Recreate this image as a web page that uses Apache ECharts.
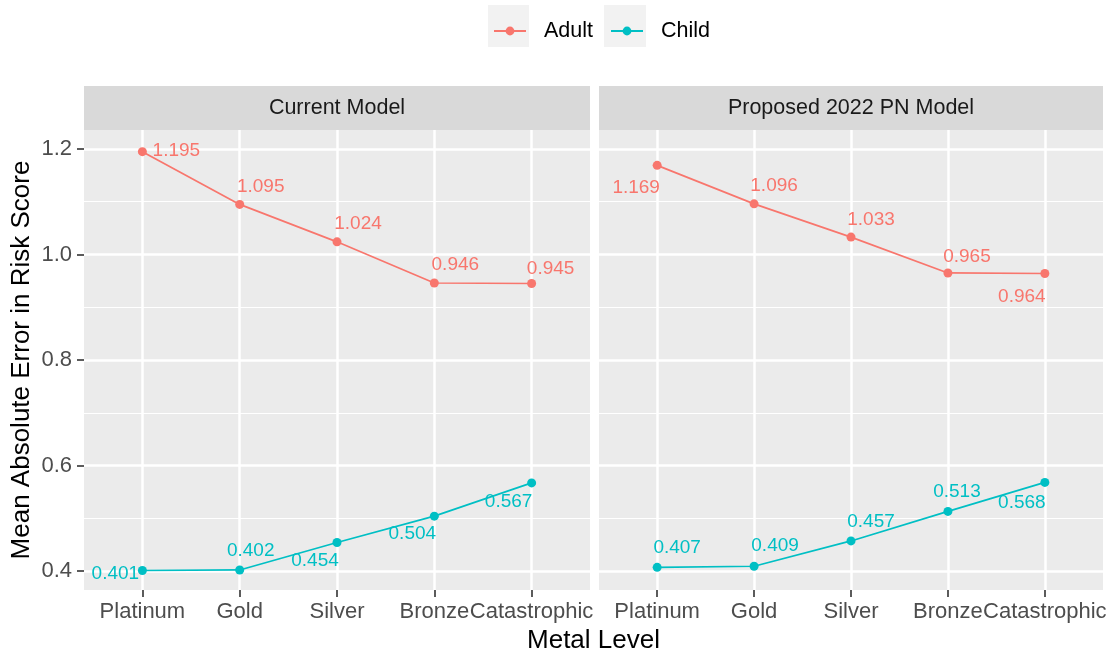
<!DOCTYPE html>
<html>
<head>
<meta charset="utf-8">
<script src="https://cdn.jsdelivr.net/npm/echarts@6/dist/echarts.min.js"></script>
<style>
  html, body { margin: 0; padding: 0; background: #fff; }
  #main { width: 1111px; height: 655px; }
</style>
</head>
<body>
<div id="main"></div>
<script>
// x categories
var levels = ["Platinum", "Gold", "Silver", "Bronze", "Catastrophic"];
var panels = ["Current Model", "Proposed 2022 PN Model"];
var groups = ["Adult", "Child"];

// mean absolute error in risk score
var currentAdult = [1.195, 1.095, 1.024, 0.946, 0.945];
var currentChild = [0.401, 0.402, 0.454, 0.504, 0.567];
var proposedAdult = [1.169, 1.096, 1.033, 0.965, 0.964];
var proposedChild = [0.407, 0.409, 0.457, 0.513, 0.568];

// y tick labels + minor grid
var yTicks = [0.4, 0.6, 0.8, 1.0, 1.2];
var yMinor = [0.5, 0.7, 0.9, 1.1];

// where the (repelled) value labels sit relative to their point, px
var labelShift = {
  currentAdult: [[34, -1], [21, -18], [21, -18], [21, -18], [19, -15]],
  currentChild: [[-27, 3], [11, -19], [-22, 18], [-22, 18], [-23, 19]],
  proposedAdult: [[-21, 22], [20, -18], [20, -17], [19, -16], [-23, 23]],
  proposedChild: [[20, -20], [21, -20], [20, -19], [9, -20], [-23, 20]]
};

var colors = { Adult: "#F8766D", Child: "#00BFC4" };
var font = "'Liberation Sans', Arial, sans-serif";
var xIdx = levels.map(function (d, i) { return i + 1; });

// panel boxes (ggplot facets)
var panelBox = [
  { left: 84, width: 506 },
  { left: 599, width: 504 }
];
var panelTop = 130, panelH = 460;

function makeSeries(name, values, shift, g) {
  return {
    name: name,
    type: "line",
    xAxisIndex: g,
    yAxisIndex: g * 2 + 1,
    data: values.map(function (v, i) {
      return { value: [i + 1, v], label: { offset: shift[i] } };
    }),
    symbol: "circle",
    symbolSize: 9,
    color: colors[name],
    lineStyle: { width: 1.7, color: colors[name] },
    itemStyle: { color: colors[name] },
    label: {
      show: true,
      position: "inside",
      color: colors[name],
      fontSize: 19,
      fontFamily: font,
      formatter: function (p) { return p.value[1].toFixed(3); }
    },
    emphasis: { disabled: true },
    z: 3
  };
}

var grids = [], xAxes = [], yAxes = [];
panelBox.forEach(function (b, g) {
  grids.push({
    left: b.left, top: panelTop, width: b.width, height: panelH,
    show: true, backgroundColor: "#EBEBEB", borderWidth: 0
  });
  xAxes.push({
    type: "value", gridIndex: g, min: 0.4, max: 5.6, position: "bottom",
    axisLine: { show: false },
    axisTick: { show: true, customValues: xIdx, length: 7, lineStyle: { color: "#333333", width: 1.6 } },
    axisLabel: {
      customValues: xIdx, margin: 11, color: "#4D4D4D", fontSize: 22, fontFamily: font,
      formatter: function (v) { return levels[Math.round(v) - 1]; }
    },
    splitLine: { show: true, lineStyle: { color: "#FFFFFF", width: 2.5 } }
  });
  // minor grid
  yAxes.push({
    type: "value", gridIndex: g, min: 0.364, max: 1.236, position: "left",
    axisLine: { show: false },
    axisTick: { show: false, customValues: yMinor },
    axisLabel: { show: false, customValues: yMinor },
    splitLine: { show: true, lineStyle: { color: "#FFFFFF", width: 1.2 } }
  });
  // major grid + labels
  yAxes.push({
    type: "value", gridIndex: g, min: 0.364, max: 1.236, position: "left",
    axisLine: { show: false },
    axisTick: { show: g === 0, customValues: yTicks, length: 7, lineStyle: { color: "#333333", width: 1.6 } },
    axisLabel: {
      show: g === 0, customValues: yTicks, margin: 12, color: "#4D4D4D", fontSize: 22, fontFamily: font,
      formatter: function (v) { return v.toFixed(1); }
    },
    splitLine: { show: true, lineStyle: { color: "#FFFFFF", width: 2.5 } },
    name: g === 0 ? "Mean Absolute Error in Risk Score" : "",
    nameLocation: "middle",
    nameGap: 49,
    nameTextStyle: { fontSize: 26, color: "#000000", fontFamily: font }
  });
});

var graphics = [
  { type: "rect", shape: { x: 488, y: 5, width: 41, height: 42 }, style: { fill: "#F2F2F2" } },
  { type: "rect", shape: { x: 604, y: 5, width: 42, height: 42 }, style: { fill: "#F2F2F2" } },
  {
    type: "text", x: 593.5, y: 641,
    style: { text: "Metal Level", fontSize: 26, fontFamily: font, fill: "#000000", align: "center", verticalAlign: "middle" }
  }
];
panelBox.forEach(function (b, g) {
  graphics.push({ type: "rect", shape: { x: b.left, y: 86, width: b.width, height: 44 }, style: { fill: "#D9D9D9" } });
  graphics.push({
    type: "text", x: b.left + b.width / 2, y: 108,
    style: { text: panels[g], fontSize: 21.5, fontFamily: font, fill: "#1A1A1A", align: "center", verticalAlign: "middle" }
  });
});

var chart = echarts.init(document.getElementById("main"));
chart.setOption({
  animation: false,
  backgroundColor: "#FFFFFF",
  legend: {
    data: groups,
    left: 488, top: 15,
    itemWidth: 32, itemHeight: 11, itemGap: 17,
    selectedMode: false,
    textStyle: { fontSize: 21.5, color: "#000000", fontFamily: font, padding: [0, 0, 0, 13] }
  },
  graphic: graphics,
  grid: grids,
  xAxis: xAxes,
  yAxis: yAxes,
  series: [
    makeSeries("Adult", currentAdult, labelShift.currentAdult, 0),
    makeSeries("Child", currentChild, labelShift.currentChild, 0),
    makeSeries("Adult", proposedAdult, labelShift.proposedAdult, 1),
    makeSeries("Child", proposedChild, labelShift.proposedChild, 1)
  ]
});
</script>
</body>
</html>
